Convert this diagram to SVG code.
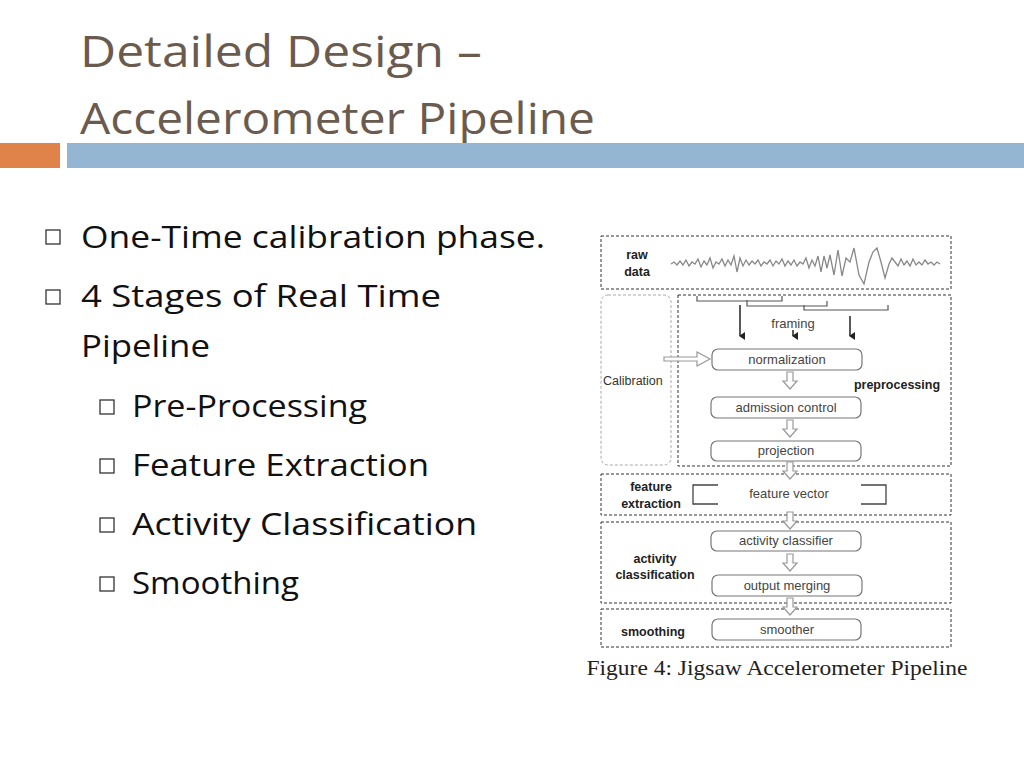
<svg xmlns="http://www.w3.org/2000/svg" width="1024" height="768" viewBox="0 0 1024 768">
<defs>
<style>
.t{font-family:"Open Sans","Liberation Sans",sans-serif;fill:#6b5b4f;font-size:44px}
.b{font-family:"Open Sans","Liberation Sans",sans-serif;fill:#111;font-size:31px}
.sq{fill:none;stroke:#333;stroke-width:1.3}
.dz{fill:none;stroke:#333;stroke-width:1;stroke-dasharray:3,2}
.nd{fill:#fff;stroke:#777;stroke-width:1.2}
.nt{font-family:"Liberation Sans",Arial,sans-serif;font-size:13px;fill:#444;text-anchor:middle}
.lb{font-family:"Liberation Sans",Arial,sans-serif;font-size:12.5px;font-weight:bold;fill:#222;text-anchor:middle}
.ha{fill:#fff;stroke:#999;stroke-width:1.2}
</style>
<marker id="ah" markerWidth="8" markerHeight="6" refX="4" refY="5" orient="auto" markerUnits="userSpaceOnUse"><path d="M0,0 L8,0 L4,6 Z" fill="#222"/></marker>
<path id="dn" d="M-3,0 h6 v9 h4 l-7,8 l-7,-8 h4 z"/>
</defs>
<rect width="1024" height="768" fill="#fff"/>
<text class="t" x="80" y="67" textLength="402" lengthAdjust="spacingAndGlyphs">Detailed Design –</text>
<text class="t" x="80" y="134" textLength="515" lengthAdjust="spacingAndGlyphs">Accelerometer Pipeline</text>
<rect x="0" y="143" width="60" height="25" fill="#e0834a"/>
<rect x="67" y="143" width="957" height="25" fill="#94b6d2"/>
<g id="bullets">
<rect class="sq" x="46" y="230" width="14" height="14"/>
<text class="b" x="81" y="248" textLength="464" lengthAdjust="spacingAndGlyphs">One-Time calibration phase.</text>
<rect class="sq" x="46" y="290" width="14" height="14"/>
<text class="b" x="81" y="307" textLength="360" lengthAdjust="spacingAndGlyphs">4 Stages of Real Time</text>
<text class="b" x="81" y="357" textLength="129" lengthAdjust="spacingAndGlyphs">Pipeline</text>
<rect class="sq" x="100" y="400" width="14" height="14"/>
<text class="b" x="132" y="417" textLength="235" lengthAdjust="spacingAndGlyphs">Pre-Processing</text>
<rect class="sq" x="100" y="459" width="14" height="14"/>
<text class="b" x="132" y="476" textLength="297" lengthAdjust="spacingAndGlyphs">Feature Extraction</text>
<rect class="sq" x="100" y="518" width="14" height="14"/>
<text class="b" x="132" y="535" textLength="345" lengthAdjust="spacingAndGlyphs">Activity Classification</text>
<rect class="sq" x="100" y="577" width="14" height="14"/>
<text class="b" x="132" y="594" textLength="167" lengthAdjust="spacingAndGlyphs">Smoothing</text>
</g>
<g id="raw">
<rect class="dz" x="601" y="236" width="350" height="53"/>
<text class="lb" x="637" y="259">raw</text>
<text class="lb" x="637" y="276">data</text>
<polyline fill="none" stroke="#888" stroke-width="1.3" points="671,264 674,262 677,265 680,261 683,265 686,260 689,266 692,262 695,264 698,259 701,267 704,261 707,265 710,258 713,268 716,262 719,264 722,259 725,266 728,260 731,265 734,256 737,272 740,258 743,266 746,260 749,265 752,261 755,264 758,260 761,266 764,262 767,264 770,260 773,266 776,261 779,264 782,259 785,266 788,261 791,265 794,260 797,266 800,262 803,264 806,258 809,268 812,260 815,266 818,256 821,272 824,256 827,268 830,255 834,275 838,250 842,276 846,258 850,262 854,248 859,275 864,284 869,262 873,252 877,248 881,262 885,278 889,264 892,258 895,262 898,266 901,259 904,265 907,261 910,266 913,259 916,265 919,262 922,265 925,260 928,264 931,262 934,265 937,262 940,264"/>
</g>
<g id="calibration">
<rect x="601" y="295" width="70" height="170" rx="7" fill="none" stroke="#aaa" stroke-dasharray="3,2"/>
<text x="603" y="385" font-family="Liberation Sans,Arial,sans-serif" font-size="12.5" fill="#333">Calibration</text>
</g>
<g id="preprocessing">
<rect class="dz" x="678" y="295" width="273" height="171"/>
<text class="lb" x="897" y="389">preprocessing</text>
<path d="M697,296 v5 h85 v-5 M747,300 v6 h80 v-5 M804,305 v5 h84 v-5" fill="none" stroke="#555" stroke-width="1.2"/>
<text class="nt" x="793" y="328">framing</text>
</g>
<g id="normalization"><rect class="nd" x="712" y="349" width="150" height="21" rx="6"/><text class="nt" x="787" y="364">normalization</text></g>
<g id="admission"><rect class="nd" x="711" y="397" width="150" height="21" rx="6"/><text class="nt" x="786" y="412">admission control</text></g>
<g id="projection"><rect class="nd" x="711" y="441" width="150" height="20" rx="6"/><text class="nt" x="786" y="455">projection</text></g>
<g id="feature">
<rect class="dz" x="601" y="474" width="350" height="41"/>
<text class="lb" x="651" y="491">feature</text>
<text class="lb" x="651" y="508">extraction</text>
<path d="M718,485 h-25 v19 h25 M861,485 h25 v19 h-25" fill="none" stroke="#444" stroke-width="1.3"/>
<text class="nt" x="789" y="498">feature vector</text>
</g>
<g id="activity">
<rect class="dz" x="601" y="522" width="350" height="81"/>
<text class="lb" x="655" y="563">activity</text>
<text class="lb" x="655" y="579">classification</text>
</g>
<g id="classifier"><rect class="nd" x="711" y="531" width="150" height="20" rx="6"/><text class="nt" x="786" y="545">activity classifier</text></g>
<g id="merging"><rect class="nd" x="712" y="575" width="150" height="21" rx="6"/><text class="nt" x="787" y="590">output merging</text></g>
<g id="smoothing">
<rect class="dz" x="601" y="609" width="350" height="38"/>
<text class="lb" x="653" y="636">smoothing</text>
</g>
<g id="smoother"><rect class="nd" x="712" y="619" width="149" height="21" rx="6"/><text class="nt" x="787" y="634">smoother</text></g>
<g id="connectors">
<line x1="740" y1="305" x2="740" y2="336" stroke="#222" stroke-width="1.5" marker-end="url(#ah)"/>
<line x1="793" y1="330" x2="793" y2="336" stroke="#222" stroke-width="1.5" marker-end="url(#ah)"/>
<line x1="850" y1="316" x2="850" y2="336" stroke="#222" stroke-width="1.5" marker-end="url(#ah)"/>
<path class="ha" d="M664,357 h33 v-5 l13,7 l-13,7 v-5 h-33 z"/>
<use href="#dn" x="790" y="372" class="ha"/>
<use href="#dn" x="790" y="420" class="ha"/>
<use href="#dn" x="790" y="462" class="ha"/>
<use href="#dn" x="790" y="512" class="ha"/>
<use href="#dn" x="790" y="554" class="ha"/>
<use href="#dn" x="790" y="598" class="ha"/>
</g>
<text x="777" y="675" font-family="Liberation Serif,Times New Roman,serif" font-size="21" fill="#222" text-anchor="middle" textLength="381" lengthAdjust="spacingAndGlyphs">Figure 4: Jigsaw Accelerometer Pipeline</text>
</svg>
